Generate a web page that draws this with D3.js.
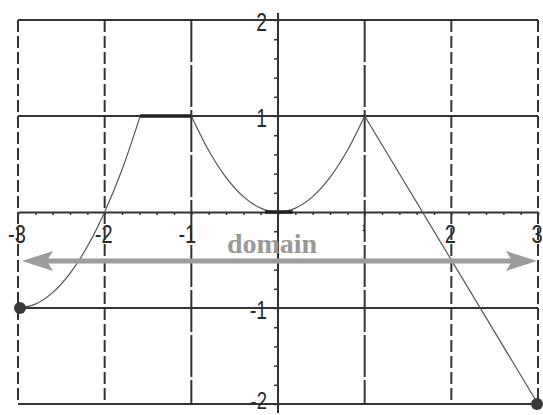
<!DOCTYPE html>
<html lang="en">
<head>
    <meta charset="UTF-8">
    <title>Domain of a function</title>
    <script src="https://d3js.org/d3.v7.min.js"></script>
    <style>
        body { margin: 0; background: #fff; }
        .tick-label { font-family: "Liberation Sans", Arial, sans-serif; fill: #2a2a2a; }
        .domain-label { font-family: "Liberation Serif", "Times New Roman", serif; font-weight: bold; fill: #999; }
    </style>
</head>
<body>
    <div id="chart-container"></div>

    <script>
        // values
        const xTicks = [-3, -2, -1, 1, 2, 3];
        const yTicks = [-2, -1, 1, 2];
        const domainExtent = [-3, 3];
        const endPoints = [[-3, -1], [3, -2]];

        // rising arc from the left end up to y = 1
        const leftArc = [[-3, -1], [-2.8, -0.96], [-2.6, -0.84], [-2.4, -0.64], [-2.2, -0.36],
                         [-2, 0], [-1.8, 0.44], [-1.59, 1]];
        // plateau at y = 1
        const topFlat = [[-1.59, 1], [-1, 1]];
        // valley between -1 and 1
        const valley = [[-1, 1], [-0.8, 0.64], [-0.6, 0.36], [-0.4, 0.16], [-0.2, 0.04], [0, 0],
                        [0.2, 0.04], [0.4, 0.16], [0.6, 0.36], [0.8, 0.64], [1, 1]];
        const bottomFlat = [[-0.15, 0], [0.17, 0]];
        // straight fall to the right end
        const rightLine = [[1, 1], [3, -2]];

        const containerWidth = 543;
        const containerHeight = 415;

        const svg = d3.select("#chart-container")
            .append("svg")
            .attr("width", containerWidth)
            .attr("height", containerHeight);

        const x = d3.scaleLinear().domain([-3, 3]).range([18, 538]);
        const y = d3.scaleLinear().domain([-2, 2]).range([404, 20]);

        const ink = "#333";

        // vertical grid lines, dashed
        const longDash = [-1, 1];
        svg.append("g")
            .selectAll("line")
            .data(xTicks)
            .join("line")
            .attr("x1", d => x(d)).attr("x2", d => x(d))
            .attr("y1", y(2)).attr("y2", y(-2))
            .attr("stroke", ink)
            .attr("stroke-width", 2)
            .attr("stroke-dasharray", d => longDash.includes(d) ? "42,3" : "12,4");

        // horizontal grid lines
        svg.append("g")
            .selectAll("line")
            .data(yTicks)
            .join("line")
            .attr("x1", x(-3)).attr("x2", x(3))
            .attr("y1", d => y(d)).attr("y2", d => y(d))
            .attr("stroke", ink)
            .attr("stroke-width", 2);

        // x axis with small ticks hanging below
        const xAxis = svg.append("g")
            .attr("transform", `translate(0, ${y(0)})`)
            .call(d3.axisBottom(x)
                .tickValues(d3.range(-30, 31, 2).map(v => v / 10))
                .tickSize(3).tickSizeOuter(0).tickFormat(""));
        xAxis.select(".domain").attr("stroke", ink).attr("stroke-width", 2);
        xAxis.selectAll(".tick line").attr("stroke", ink).attr("stroke-width", 1.5);

        // y axis with small ticks on the left
        const yAxis = svg.append("g")
            .attr("transform", `translate(${x(0)}, 0)`)
            .call(d3.axisLeft(y)
                .tickValues(d3.range(-20, 21, 2).map(v => v / 10))
                .tickSize(4).tickSizeOuter(0).tickFormat(""));
        yAxis.select(".domain")
            .attr("d", `M0,${y(2) - 7}V${y(-2) + 9}`)
            .attr("stroke", ink).attr("stroke-width", 2);
        yAxis.selectAll(".tick line").attr("stroke", ink).attr("stroke-width", 1.5);

        // tick labels, tall and narrow like the original
        svg.append("g")
            .selectAll("text")
            .data(xTicks)
            .join("text")
            .attr("class", "tick-label")
            .attr("transform", d => `translate(${x(d) - (d === -1 ? 4 : 1)}, ${y(0) + 31}) scale(0.77,1)`)
            .attr("text-anchor", "middle")
            .attr("font-size", d => d === 1 ? 9 : 26)
            .attr("dy", d => d === 1 ? -12 : 0)
            .text(d => d < 0 ? "-" + Math.abs(d) : d);

        svg.append("g")
            .selectAll("text")
            .data(yTicks)
            .join("text")
            .attr("class", "tick-label")
            .attr("transform", d => `translate(${x(0) - 11}, ${y(d) + (d === -2 ? 5 : 11)}) scale(0.77,1)`)
            .attr("text-anchor", "end")
            .attr("font-size", d => d === -2 ? 24 : 25)
            .text(d => d < 0 ? "-" + Math.abs(d) : d);

        // the function
        const line = d3.line()
            .x(d => x(d[0]))
            .y(d => y(d[1]));
        const smooth = d3.line()
            .x(d => x(d[0]))
            .y(d => y(d[1]))
            .curve(d3.curveMonotoneX);

        [leftArc, valley].forEach(pts => {
            svg.append("path")
                .datum(pts)
                .attr("fill", "none")
                .attr("stroke", "#555")
                .attr("stroke-width", 1.2)
                .attr("d", smooth);
        });
        svg.append("path")
            .datum(rightLine)
            .attr("fill", "none")
            .attr("stroke", "#555")
            .attr("stroke-width", 1.2)
            .attr("d", line);
        [topFlat, bottomFlat].forEach(pts => {
            svg.append("path")
                .datum(pts)
                .attr("fill", "none")
                .attr("stroke", "#222")
                .attr("stroke-width", 3.5)
                .attr("d", line);
        });

        // domain arrow
        const arrowY = y(-0.5) + 1;
        const left = x(domainExtent[0]) + 4;
        const right = x(domainExtent[1]) - 1;
        const grey = "#9c9c9c";
        svg.append("line")
            .attr("x1", left + 24).attr("x2", right - 24)
            .attr("y1", arrowY).attr("y2", arrowY)
            .attr("stroke", grey)
            .attr("stroke-width", 5);
        svg.append("path")
            .attr("fill", grey)
            .attr("d", `M${left},${arrowY} L${left + 31},${arrowY - 10} L${left + 25},${arrowY} L${left + 31},${arrowY + 10} Z`);
        svg.append("path")
            .attr("fill", grey)
            .attr("d", `M${right},${arrowY} L${right - 31},${arrowY - 10} L${right - 25},${arrowY} L${right - 31},${arrowY + 10} Z`);

        svg.append("text")
            .attr("class", "domain-label")
            .attr("x", 272)
            .attr("y", 253)
            .attr("text-anchor", "middle")
            .attr("font-size", 28)
            .text("domain");

        // end points
        svg.append("g")
            .selectAll("circle")
            .data(endPoints)
            .join("circle")
            .attr("cx", d => x(d[0]) + (d[0] < 0 ? 2 : -1))
            .attr("cy", d => y(d[1]))
            .attr("r", 6)
            .attr("fill", "#3a3a3a");
    </script>
</body>
</html>
